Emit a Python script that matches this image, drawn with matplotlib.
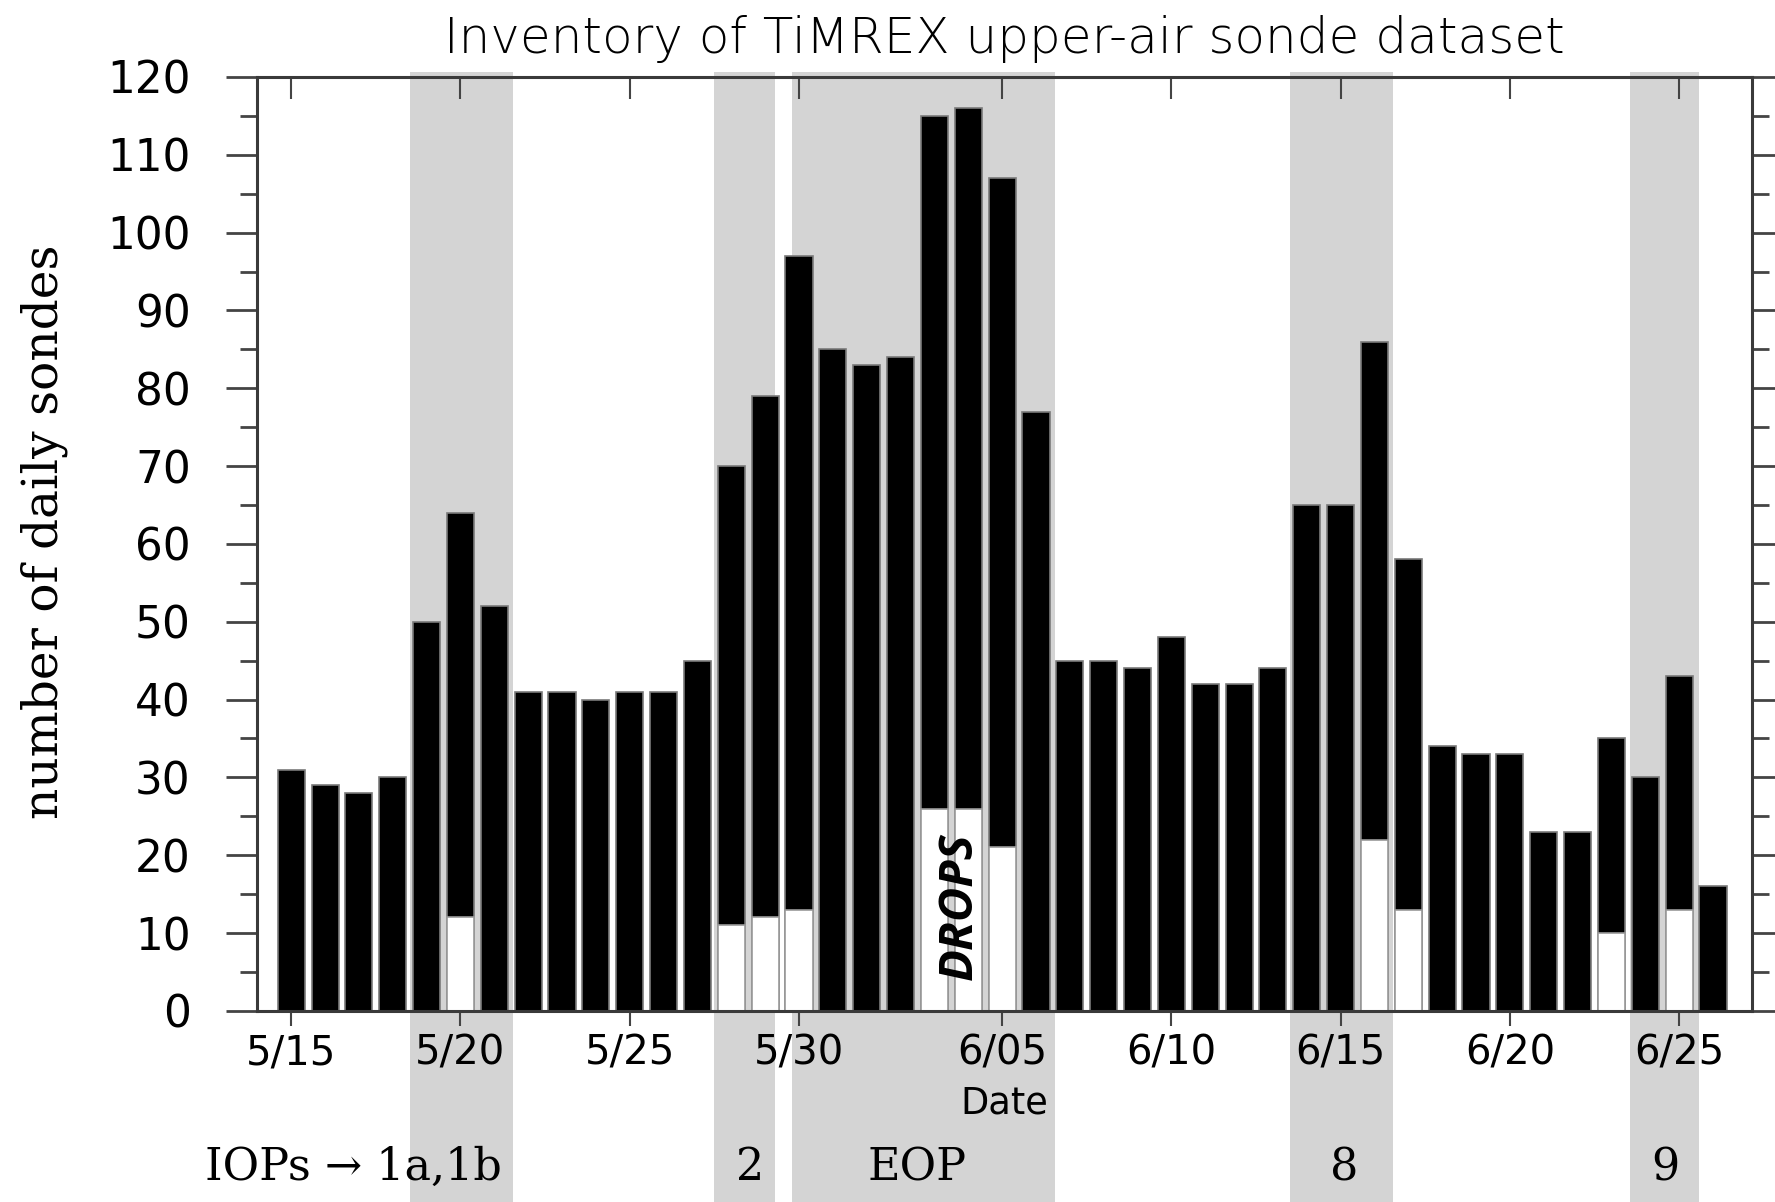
import numpy as np
import matplotlib
matplotlib.use('Agg')
import matplotlib.pyplot as plt

# daily sonde counts, 5/15 .. 6/26
dates = ['5/15', '5/16', '5/17', '5/18', '5/19', '5/20', '5/21', '5/22', '5/23', '5/24',
         '5/25', '5/26', '5/27', '5/28', '5/29', '5/30', '5/31', '6/01', '6/02', '6/03',
         '6/04', '6/05', '6/06', '6/07', '6/08', '6/09', '6/10', '6/11', '6/12', '6/13',
         '6/14', '6/15', '6/16', '6/17', '6/18', '6/19', '6/20', '6/21', '6/22', '6/23',
         '6/24', '6/25', '6/26']
totals = [31, 29, 28, 30, 50, 64, 52, 41, 41, 40,
          41, 41, 45, 70, 79, 97, 85, 83, 84, 115,
          116, 107, 77, 45, 45, 44, 48, 42, 42, 44,
          65, 65, 86, 58, 34, 33, 33, 23, 23, 35,
          30, 43, 16]
drops = [0, 0, 0, 0, 0, 12, 0, 0, 0, 0,
         0, 0, 0, 11, 12, 13, 0, 0, 0, 26,
         26, 21, 0, 0, 0, 0, 0, 0, 0, 0,
         0, 0, 22, 13, 0, 0, 0, 0, 0, 10,
         0, 13, 0]

tick_labels = ['5/15', '5/20', '5/25', '5/30', '6/05', '6/10', '6/15', '6/20', '6/25']

# IOP periods (in day index units) and their labels
iop_start = [3.5, 12.5, 14.8, 29.5, 39.55]
iop_end = [6.55, 14.3, 22.55, 32.55, 41.6]
iop_names = ['1a,1b', '2', 'EOP', '8', '9']
iop_label_x = [None, 13.55, 18.5, 31.1, 40.6]

sans = ['DejaVu Sans']
serif = ['DejaVu Serif']


def main():
    x = np.arange(len(dates))
    tick_pos = [dates.index(t) for t in tick_labels]

    fig = plt.figure(figsize=(17.75, 12.02), dpi=100)
    ax = fig.add_axes([0.145, 0.159, 0.842, 0.777])

    # shaded IOP periods, running down below the axes
    for s, e in zip(iop_start, iop_end):
        ax.axvspan(s, e, ymin=-0.3, ymax=1.005, color='#d4d4d4', lw=0,
                   zorder=0, clip_on=False)

    ax.bar(x, totals, width=0.8, color='black', edgecolor='#7a7a7a', linewidth=1.2, zorder=2)
    d = np.array(drops)
    ax.bar(x[d > 0], d[d > 0], width=0.8, color='white', edgecolor='#9a9a9a',
           linewidth=1.2, zorder=3)

    ax.set_xlim(-1.0, 43.15)
    ax.set_ylim(0, 120)

    ax.set_yticks(np.arange(0, 121, 10))
    ax.set_yticks(np.arange(5, 120, 10), minor=True)
    ax.tick_params(axis='y', which='major', direction='out', length=22, width=2,
                   left=True, right=True, labelsize=31.5, color='#444444', pad=26)
    ax.tick_params(axis='y', which='minor', direction='out', length=12, width=2,
                   left=True, right=True, color='#444444')

    ax.set_xticks(tick_pos)
    ax.set_xticklabels(tick_labels)
    ax.tick_params(axis='x', which='major', direction='out', length=11, width=1.5,
                   labelsize=29, color='#444444', pad=5)
    top = ax.secondary_xaxis('top')
    top.set_xticks(tick_pos)
    top.tick_params(direction='in', length=16, width=1.5, labeltop=False, color='#444444')
    top.spines['top'].set_visible(False)

    for lab in ax.get_xticklabels() + ax.get_yticklabels():
        lab.set_family(sans)

    for sp in ax.spines.values():
        sp.set_linewidth(2.2)
        sp.set_color('#3a3a3a')
        sp.set_zorder(4)

    ax.set_title('Inventory of TiMREX upper-air sonde dataset', fontsize=36,
                 family=sans, fontweight='light', pad=17)
    ax.set_ylabel('number of daily sondes', fontsize=35, family=serif)
    ax.yaxis.set_label_coords(-0.127, 0.513)
    ax.set_xlabel('Date', fontsize=26.5, family=sans, labelpad=8)

    ax.text(19.73, 13.5, 'DROPS', rotation=90, ha='center', va='center',
            fontsize=34, fontweight='bold', fontstyle='italic',
            family=['Open Sans', 'DejaVu Sans'], zorder=5)

    # IOP labels below the axis
    ax.text(-2.55, -0.168, 'IOPs \u2192 ' + iop_names[0], transform=ax.get_xaxis_transform(),
            ha='left', va='center', fontsize=32, family=serif, clip_on=False)
    for name, lx in zip(iop_names[1:], iop_label_x[1:]):
        ax.text(lx, -0.168, name, transform=ax.get_xaxis_transform(),
                ha='center', va='center', fontsize=32, family=serif, clip_on=False)

    fig.savefig('out.png', dpi=100)


if __name__ == "__main__":
    main()
